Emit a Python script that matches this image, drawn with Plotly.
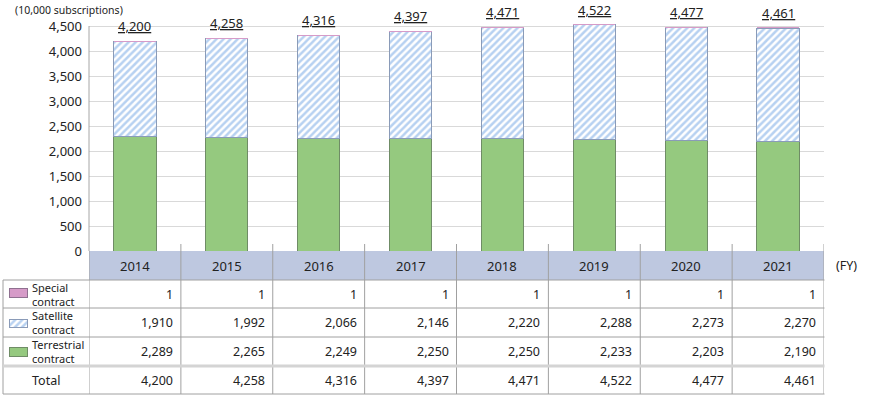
import plotly.graph_objects as go

years = ["2014", "2015", "2016", "2017", "2018", "2019", "2020", "2021"]
special = [1, 1, 1, 1, 1, 1, 1, 1]
satellite = [1910, 1992, 2066, 2146, 2220, 2288, 2273, 2270]
terrestrial = [2289, 2265, 2249, 2250, 2250, 2233, 2203, 2190]
total = [4200, 4258, 4316, 4397, 4471, 4522, 4477, 4461]
row_labels = ["Special<br>contract", "Satellite<br>contract", "Terrestrial<br>contract"]
y_ticks = [0, 500, 1000, 1500, 2000, 2500, 3000, 3500, 4000, 4500]
unit_label = "(10,000 subscriptions)"
fy_label = "(FY)"
total_label = "Total"

W, H = 872, 397
FONT = "Noto Sans"
TXT = "#222222"
GREEN = "#95C97F"
PINK = "#D69BC8"
BLUE = "#6FA3E3"
HEAD = "#BEC8E0"
LINE = "#A0A0A0"
Y_MAX = 4800  # axis headroom above the top gridline so total labels stay inside the range


def px(x):
    return x / W


def py(y):
    return (H - y) / H


sat_marker = dict(color="white", line=dict(color="#8A9BB8", width=1),
                  pattern=dict(shape="/", fgcolor=BLUE, bgcolor="white", size=5, solidity=0.5))
ter_marker = dict(color=GREEN, line=dict(color="#6F8C66", width=1))
spe_marker = dict(color=PINK, line=dict(color="#8F7090", width=1))

fig = go.Figure()
fig.add_trace(go.Bar(x=years, y=terrestrial, marker=ter_marker, width=0.46, name="Terrestrial"))
fig.add_trace(go.Bar(x=years, y=satellite, marker=sat_marker, width=0.46, name="Satellite"))
fig.add_trace(go.Bar(x=years, y=special, marker=dict(color=PINK, line=dict(width=0)),
                     width=0.46, name="Special"))

# legend swatches in the table (own small axes)
sw_rows = [(288, 298, spe_marker), (319, 328, sat_marker), (347, 357, ter_marker)]
for k, (t, b, mk) in enumerate(sw_rows, start=2):
    fig.add_trace(go.Bar(x=[0], y=[1], width=1, marker=mk, xaxis=f"x{k}", yaxis=f"y{k}",
                         showlegend=False, hoverinfo="skip"))
    fig.update_layout(**{
        f"xaxis{k}": dict(domain=[px(9), px(28)], range=[-0.52, 0.52], visible=False,
                          anchor=f"y{k}", fixedrange=True, automargin=False),
        f"yaxis{k}": dict(domain=[py(b), py(t)], range=[-0.03, 1.03], visible=False,
                          anchor=f"x{k}", fixedrange=True, automargin=False),
    })

ann = []
# totals above bars
for i, v in enumerate(total):
    ann.append(dict(x=i, y=v, xref="x", yref="y", text=f"<u>{v:,}</u>", showarrow=False,
                    yanchor="bottom", yshift=5, borderpad=0,
                    font=dict(family=FONT, size=13, color=TXT)))
# header years
for i, y in enumerate(years):
    ann.append(dict(x=i, y=py(265.5), xref="x", yref="paper", text=y, showarrow=False,
                    yanchor="middle", font=dict(family=FONT, size=13, color=TXT)))
# table values
row_centers = [294, 322.5, 351.5, 380]
rows = [special, satellite, terrestrial, total]
for r, vals in enumerate(rows):
    for i, v in enumerate(vals):
        ann.append(dict(x=i + 0.5, y=py(row_centers[r]), xref="x", yref="paper",
                        text=f"{v:,}", showarrow=False, xanchor="right", yanchor="middle",
                        xshift=-6, font=dict(family=FONT, size=12.5, color=TXT)))
# row labels
for lab, yc in zip(row_labels, row_centers[:3]):
    ann.append(dict(x=px(31), y=py(yc), xref="paper", yref="paper", text=lab, showarrow=False,
                    xanchor="left", yanchor="middle", align="left", borderpad=0,
                    font=dict(family=FONT, size=11, color=TXT)))
ann.append(dict(x=px(45.5), y=py(380), xref="paper", yref="paper", text=total_label,
                showarrow=False, xanchor="center", yanchor="middle",
                font=dict(family=FONT, size=12.5, color=TXT)))
ann.append(dict(x=px(834), y=py(265.5), xref="paper", yref="paper", text=fy_label,
                showarrow=False, xanchor="left", yanchor="middle",
                font=dict(family=FONT, size=12.5, color=TXT)))
ann.append(dict(x=px(14), y=py(10), xref="paper", yref="paper", text=unit_label,
                showarrow=False, xanchor="left", yanchor="middle", borderpad=0,
                font=dict(family=FONT, size=10.5, color=TXT)))

shapes = []
# y axis line up to the top gridline
shapes.append(dict(type="line", xref="paper", yref="y", x0=px(89), x1=px(89),
                   y0=0, y1=y_ticks[-1], line=dict(color="#A6A6A6", width=1)))
# header band
shapes.append(dict(type="rect", xref="x", yref="paper", x0=-0.5, x1=7.5, y0=py(280), y1=py(251),
                   fillcolor=HEAD, line=dict(width=0), layer="below"))
# vertical separators
for k in range(len(years) + 1):
    top = 251 if k == 0 else 244
    shapes.append(dict(type="line", xref="x", yref="paper", x0=k - 0.5, x1=k - 0.5,
                       y0=py(394), y1=py(top), line=dict(color=LINE, width=1)))
shapes.append(dict(type="line", xref="paper", yref="paper", x0=px(3), x1=px(3),
                   y0=py(394), y1=py(280), line=dict(color=LINE, width=1)))
# horizontal lines
for yy in [280, 308, 337, 394]:
    shapes.append(dict(type="line", xref="paper", yref="paper", x0=px(3), x1=px(824.5),
                       y0=py(yy), y1=py(yy), line=dict(color=LINE, width=1)))
shapes.append(dict(type="line", xref="paper", yref="paper", x0=px(3), x1=px(824.5),
                   y0=py(366), y1=py(366), line=dict(color="#D4D4D4", width=3)))

fig.update_layout(
    width=W, height=H,
    margin=dict(l=0, r=0, t=0, b=0, autoexpand=False),
    paper_bgcolor="white", plot_bgcolor="white",
    barmode="stack", showlegend=False,
    xaxis=dict(domain=[px(89), px(824)], range=[-0.5, 7.5], type="category",
               showticklabels=False, showgrid=False, zeroline=False, showline=False,
               fixedrange=True, automargin=False),
    yaxis=dict(domain=[py(251), py(11)], range=[0, Y_MAX], tickvals=y_ticks,
               ticktext=[f"{v:,}" for v in y_ticks], showgrid=True, gridcolor="#D9D9D9",
               gridwidth=1, zeroline=False, showline=False,
               ticks="", ticklabelstandoff=6, tickfont=dict(family=FONT, size=13, color=TXT),
               fixedrange=True, automargin=False),
    annotations=ann, shapes=shapes,
)

fig.write_html("out.html", config={"displayModeBar": False},
               post_script="document.body.style.margin='0';document.body.style.overflow='hidden';")
